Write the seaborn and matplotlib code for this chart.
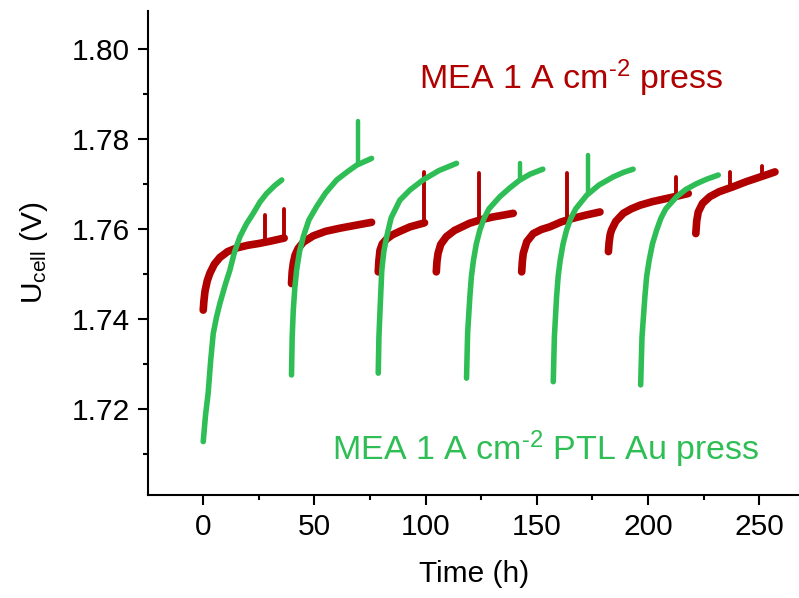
import numpy as np
import pandas as pd
import matplotlib
matplotlib.use('Agg')
import matplotlib.pyplot as plt
import seaborn as sns
from matplotlib.ticker import MultipleLocator, FormatStrFormatter

# valores (tempo em h, tensão em V), um segmento por ciclo
red_t = [
    [0, 0.3, 0.8, 1.8, 3.0, 5.0, 7.5, 11, 15, 20, 25, 30, 36.4],
    [39.7, 40.0, 40.5, 41.3, 42.7, 45, 49.5, 55, 61.5, 68, 75.7],
    [78.7, 79.0, 79.5, 80.5, 82.5, 85, 88.4, 93, 98.9, 99.5],
    [104.8, 105.1, 105.6, 106.8, 109.3, 113, 119.8, 125, 130.4, 135, 139.4],
    [143.2, 143.5, 143.9, 145.5, 148.4, 152, 155.9, 161, 166.4, 172, 178.4],
    [182.2, 182.5, 183.0, 183.6, 185.5, 188.9, 192.5, 196.4, 202, 208.4, 213, 218.1],
    [221.5, 221.9, 222.6, 224.5, 227.8, 232, 238.3, 244, 248.8, 253, 257.1],
]
red_u = [
    [1.7420, 1.7440, 1.7462, 1.7485, 1.7502, 1.7522, 1.7537, 1.7550, 1.7558, 1.7564, 1.7568, 1.7573, 1.7580],
    [1.7479, 1.7505, 1.7524, 1.7542, 1.7557, 1.7571, 1.7585, 1.7595, 1.7602, 1.7608, 1.7615],
    [1.7505, 1.7530, 1.7553, 1.7567, 1.7578, 1.7587, 1.7595, 1.7605, 1.7613, 1.7614],
    [1.7505, 1.7528, 1.7546, 1.7566, 1.7583, 1.7597, 1.7613, 1.7621, 1.7627, 1.7631, 1.7635],
    [1.7505, 1.7528, 1.7546, 1.7572, 1.7590, 1.7599, 1.7605, 1.7616, 1.7624, 1.7631, 1.7638],
    [1.7550, 1.7570, 1.7588, 1.7598, 1.7617, 1.7635, 1.7645, 1.7653, 1.7661, 1.7668, 1.7673, 1.7679],
    [1.7590, 1.7618, 1.7638, 1.7657, 1.7672, 1.7683, 1.7694, 1.7705, 1.7713, 1.7720, 1.7727],
]
# picos (tempo, base, topo)
red_spike_t = [27.7, 36.4, 99.5, 124.1, 163.4, 212.5, 236.8, 251.4]
red_spike_base = [1.7568, 1.7580, 1.7614, 1.7620, 1.7620, 1.7672, 1.7690, 1.7718]
red_spike_top = [1.7631, 1.7644, 1.7727, 1.7725, 1.7725, 1.7716, 1.7727, 1.7740]

green_t = [
    [0, 1.0, 2.2, 3.3, 4.5, 6.0, 7.5, 10, 12, 14, 16.5, 19.5, 22.5, 25.5, 28.5, 32, 35.3],
    [39.7, 40.0, 40.5, 41.2, 42.0, 43.3, 45.0, 47.5, 51, 55, 60, 65, 69, 75.7],
    [78.7, 79.0, 79.5, 80.3, 81.2, 82.5, 84.5, 88.4, 93, 98.8, 106, 113.9],
    [118.4, 118.9, 119.9, 120.6, 121.5, 122.8, 124.4, 126.3, 128.5, 133.4, 138, 142.4, 147, 152.7],
    [157.4, 157.9, 158.9, 159.6, 160.5, 161.8, 163.4, 165.3, 167.5, 172.4, 178, 184.4, 189, 193.3],
    [196.7, 197.3, 198.6, 199.4, 200.5, 202, 203.9, 205.8, 208, 212.9, 217, 221.9, 226.5, 231.6],
]
green_u = [
    [1.7128, 1.7185, 1.7235, 1.7305, 1.7368, 1.7405, 1.7435, 1.7478, 1.7509, 1.7548, 1.7583, 1.7612, 1.7635,
     1.7660, 1.7679, 1.7696, 1.7709],
    [1.7276, 1.7360, 1.7420, 1.7470, 1.7509, 1.7550, 1.7583, 1.7620, 1.7650, 1.7680, 1.7709, 1.7728, 1.7742, 1.7757],
    [1.7280, 1.7360, 1.7420, 1.7509, 1.7550, 1.7583, 1.7625, 1.7664, 1.7687, 1.7709, 1.7730, 1.7746],
    [1.7269, 1.7370, 1.7450, 1.7495, 1.7530, 1.7567, 1.7598, 1.7624, 1.7645, 1.7672, 1.7692, 1.7709, 1.7722, 1.7733],
    [1.7261, 1.7360, 1.7450, 1.7495, 1.7530, 1.7567, 1.7598, 1.7624, 1.7645, 1.7675, 1.7698, 1.7716, 1.7726, 1.7733],
    [1.7254, 1.7360, 1.7450, 1.7495, 1.7530, 1.7567, 1.7598, 1.7624, 1.7645, 1.7672, 1.7688, 1.7701, 1.7711, 1.7720],
]
green_spike_t = [69.7, 142.4, 173.1]
green_spike_base = [1.7744, 1.7709, 1.7677]
green_spike_top = [1.7841, 1.7746, 1.7764]

label_red = 'MEA 1 A cm$^{\u20102}$ press'
label_green = 'MEA 1 A cm$^{\u20102}$ PTL Au press'
cor_red = '#B00000'
cor_green = '#2EBE55'


def montar(ts, us):
    partes = []
    for i, (t, u) in enumerate(zip(ts, us)):
        partes.append(pd.DataFrame({'Time': t, 'U': u, 'seg': i}))
    return pd.concat(partes, ignore_index=True)


def montar_picos(t, base, topo):
    return pd.DataFrame({'Time': t + t, 'U': base + topo, 'seg': list(range(len(t))) * 2})


df_red = montar(red_t, red_u)
df_green = montar(green_t, green_u)
pk_red = montar_picos(red_spike_t, red_spike_base, red_spike_top)
pk_green = montar_picos(green_spike_t, green_spike_base, green_spike_top)

sns.set_style('ticks')
plt.rcParams['font.family'] = ['Liberation Sans', 'DejaVu Sans']
plt.rcParams['mathtext.default'] = 'regular'
for k in ['text.color', 'axes.labelcolor', 'xtick.color', 'ytick.color', 'axes.edgecolor']:
    plt.rcParams[k] = 'black'

fig = plt.figure(figsize=(7.99, 5.98), dpi=100)
ax = fig.add_axes([0.1856, 0.1727, 0.8144, 0.8094])

estilo = dict(units='seg', estimator=None, sort=False, solid_capstyle='round',
              solid_joinstyle='round', ax=ax)
sns.lineplot(data=pk_red, x='Time', y='U', color=cor_red, linewidth=2.8, **estilo)
sns.lineplot(data=df_red, x='Time', y='U', color=cor_red, linewidth=5.5, **estilo)
sns.lineplot(data=pk_green, x='Time', y='U', color=cor_green, linewidth=3.2, **estilo)
sns.lineplot(data=df_green, x='Time', y='U', color=cor_green, linewidth=4.0, **estilo)

ax.set_xlim(-24.7, 267.9)
ax.set_ylim(1.7010, 1.8085)
ax.xaxis.set_major_locator(MultipleLocator(50))
ax.xaxis.set_minor_locator(MultipleLocator(25))
ax.yaxis.set_major_locator(MultipleLocator(0.02))
ax.yaxis.set_minor_locator(MultipleLocator(0.01))
ax.yaxis.set_major_formatter(FormatStrFormatter('%.2f'))

for s in ['top', 'right']:
    ax.spines[s].set_visible(False)
for s in ['left', 'bottom']:
    ax.spines[s].set_linewidth(1.5)
ax.tick_params(which='major', direction='out', length=7, width=1.5, labelsize=21.5, pad=6)
ax.tick_params(which='minor', direction='out', length=3.6, width=1.5)

ax.set_xlabel('Time (h)', fontsize=21.5, labelpad=14)
ax.set_ylabel('U$_{cell}$ (V)', fontsize=21.5, labelpad=16)

ax.text(97.2, 1.7910, label_red, color=cor_red, fontsize=24.5, ha='left', va='baseline')
ax.text(57.8, 1.7087, label_green, color=cor_green, fontsize=24.5, ha='left', va='baseline')

fig.savefig('out.png', dpi=100)
